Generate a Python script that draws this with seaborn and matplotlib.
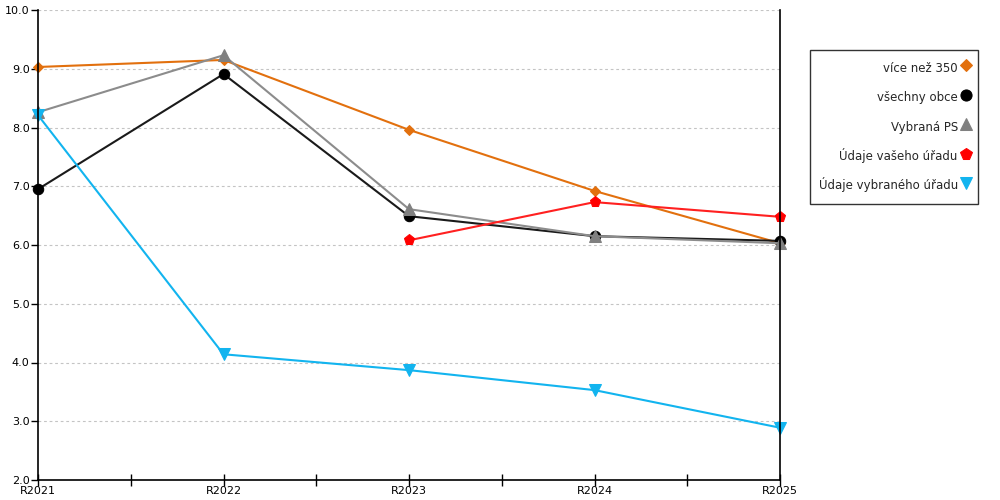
import numpy as np
import pandas as pd
import matplotlib
matplotlib.use("Agg")
import matplotlib.pyplot as plt
from matplotlib.ticker import FormatStrFormatter, MultipleLocator
import seaborn as sns

# ================== Data ==================
years = ["R2021", "R2022", "R2023", "R2024", "R2025"]

more_than_350 = [9.03, 9.15, 7.96, 6.92, 6.03]
all_municipalities = [6.95, 8.91, 6.49, 6.15, 6.07]
selected_ps = [8.26, 9.23, 6.61, 6.15, 6.03]
your_office = [np.nan, np.nan, 6.08, 6.73, 6.48]
selected_office = [8.21, 4.14, 3.87, 3.53, 2.89]

series_names = ["více než 350", "všechny obce", "Vybraná PS",
                "Údaje vašeho úřadu", "Údaje vybraného úřadu"]
series_values = [more_than_350, all_municipalities, selected_ps,
                 your_office, selected_office]

# styles per series
colors = ["#e2700e", "#000000", "#808080", "#ff0000", "#12b4ef"]
markers = ["D", "o", "^", "p", "v"]
marker_sizes = [5.5, 7.5, 8, 8, 8]
line_colors = ["#e2700e", "#1a1a1a", "#8c8c8c", "#ff2020", "#12b4ef"]

# ================== Plot ==================
sns.set_style("white")
plt.rcParams['font.family'] = ['DejaVu Sans']

fig = plt.figure(figsize=(10, 5), dpi=100)
ax = fig.add_axes([0.038, 0.04, 0.742, 0.94])

x_pos = np.arange(len(years))
for name, vals, c, lc, m, ms in zip(series_names, series_values, colors,
                                    line_colors, markers, marker_sizes):
    df = pd.DataFrame({"x": x_pos, "y": vals}).dropna()
    sns.lineplot(data=df, x="x", y="y", ax=ax, color=lc, linewidth=1.5,
                 marker=m, markersize=ms, markerfacecolor=c,
                 markeredgecolor=c, label=name, clip_on=False)

ax.set_xlim(0, len(years) - 1)
ax.set_ylim(2.0, 10.0)
ax.set_xticks(x_pos)
ax.set_xticklabels(years)
ax.xaxis.set_minor_locator(MultipleLocator(0.5))
ax.yaxis.set_major_locator(MultipleLocator(1.0))
ax.yaxis.set_major_formatter(FormatStrFormatter("%.1f"))
ax.set_xlabel("")
ax.set_ylabel("")

ax.grid(axis="y", color="#c4c4c4", linestyle=(0, (2.5, 2.5)), linewidth=0.8)
ax.set_axisbelow(True)

for side in ["left", "bottom", "right"]:
    ax.spines[side].set_visible(True)
    ax.spines[side].set_color("black")
    ax.spines[side].set_linewidth(1.2)
ax.spines["top"].set_visible(False)

ax.tick_params(axis="x", which="both", bottom=True, direction="inout",
               length=9, width=1, colors="black", labelsize=8, pad=0)
ax.tick_params(axis="y", which="major", left=True, right=False,
               direction="out", length=5, width=1, colors="black",
               labelsize=8, pad=1)

leg = ax.legend(loc="upper left", bbox_to_anchor=(1.04, 0.915),
                markerfirst=False, handlelength=0.6, handleheight=2.0,
                handletextpad=0.4, labelspacing=0.95, borderpad=0.75,
                fontsize=8.5, frameon=True, fancybox=False,
                edgecolor="black", borderaxespad=0)
leg.get_frame().set_linewidth(1.0)
for t in leg.get_texts():
    t.set_ha("right")
legend_marker_sizes = [6, 8, 8.5, 8.5, 8.5]
for h, ms in zip(leg.legend_handles, legend_marker_sizes):
    h.set_linestyle("None")
    h.set_markersize(ms)

fig.savefig("out.png", dpi=100)
